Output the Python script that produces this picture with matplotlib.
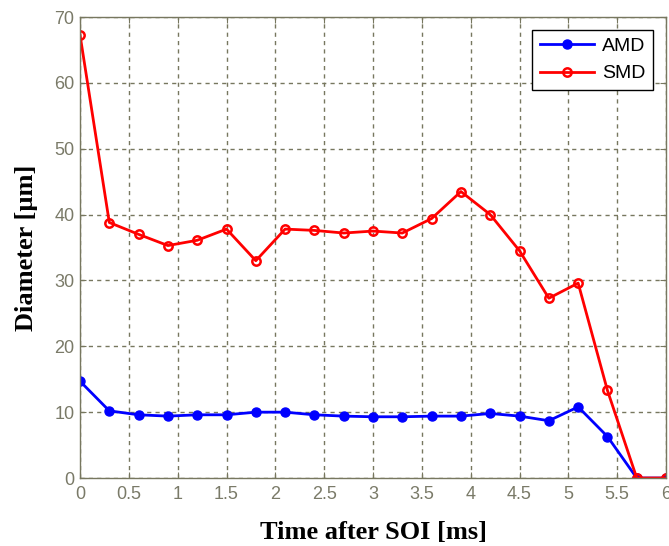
import numpy as np
import matplotlib.pyplot as plt

# time after SOI [ms]
time_ms = [0, 0.3, 0.6, 0.9, 1.2, 1.5, 1.8, 2.1, 2.4, 2.7, 3.0,
           3.3, 3.6, 3.9, 4.2, 4.5, 4.8, 5.1, 5.4, 5.7, 6.0]
# arithmetic mean diameter
amd = [14.7, 10.2, 9.6, 9.4, 9.6, 9.6, 10.0, 10.0, 9.6, 9.4, 9.3,
       9.3, 9.4, 9.4, 9.8, 9.4, 8.7, 10.8, 6.3, 0.0, 0.0]
# sauter mean diameter
smd = [67.3, 38.8, 37.0, 35.3, 36.1, 37.8, 33.0, 37.8, 37.6, 37.2, 37.5,
       37.2, 39.4, 43.5, 40.0, 34.5, 27.3, 29.6, 13.3, 0.0, 0.0]

xticks = [0, 0.5, 1, 1.5, 2, 2.5, 3, 3.5, 4, 4.5, 5, 5.5, 6]
xtick_labels = ['0', '0.5', '1', '1.5', '2', '2.5', '3', '3.5', '4', '4.5', '5', '5.5', '6']
yticks = [0, 10, 20, 30, 40, 50, 60, 70]

axis_col = '#77775f'
tick_col = '#7a7a68'

fig = plt.figure(figsize=(6.69, 5.46), dpi=100)
ax = fig.add_axes([0.1196, 0.1245, 0.876, 0.8443])

ax.plot(time_ms, amd, color='blue', lw=2, marker='o', ms=6.5,
        mfc='blue', mec='blue', label='AMD')
ax.plot(time_ms, smd, color='red', lw=2, marker='o', ms=6,
        mfc='none', mec='red', mew=1.8, label='SMD')

ax.set_xlim(0, 6)
ax.set_ylim(0, 70)
ax.set_xticks(xticks)
ax.set_xticklabels(xtick_labels)
ax.set_yticks(yticks)

ax.grid(True, color=axis_col, ls=(0, (3, 3)), lw=1)
ax.tick_params(direction='in', length=4, color=axis_col, labelcolor=tick_col,
               labelsize=13, top=True, right=True)
ax.tick_params(axis='x', pad=6)
ax.tick_params(axis='y', pad=4)
for lab in ax.get_xticklabels() + ax.get_yticklabels():
    lab.set_family('Liberation Sans')
for sp in ax.spines.values():
    sp.set_color(axis_col)
    sp.set_linewidth(1)

ax.set_xlabel('Time after SOI [ms]', fontsize=19, fontweight='bold',
              family='Liberation Serif', labelpad=13)
ax.set_ylabel('Diameter [µm]', fontsize=19, fontweight='bold',
              family='Liberation Serif', labelpad=12)

leg = ax.legend(loc='upper right', fancybox=False, framealpha=1,
                edgecolor='black', prop={'family': 'Liberation Sans', 'size': 14},
                handlelength=2.8, borderaxespad=0.65, borderpad=0.4,
                labelspacing=0.5, handletextpad=0.4)
leg.get_frame().set_linewidth(1)

fig.savefig('out.png', dpi=100)
